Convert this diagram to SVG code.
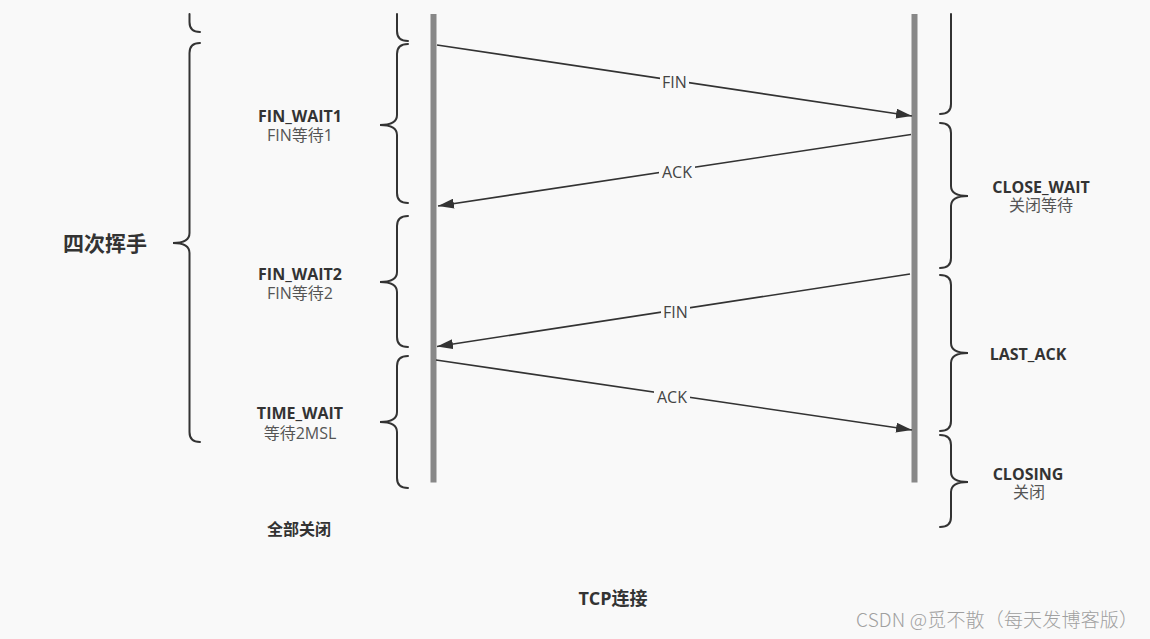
<svg xmlns="http://www.w3.org/2000/svg" width="1150" height="639" viewBox="0 0 1150 639">
<defs>
<style>
.bg{fill:#f9f9f9}
.life{fill:#888888}
.brace{fill:none;stroke:#333333;stroke-width:2;stroke-linecap:round}
.msg{fill:none;stroke:#333333;stroke-width:1.6}
.t{font-family:"Open Sans","Noto Sans CJK SC",sans-serif;font-size:16px;text-anchor:middle}
.b{font-weight:bold;fill:#333333}
.s{fill:#555555;font-weight:normal}
.lbl{font-family:"Open Sans","Noto Sans CJK SC",sans-serif;font-size:16px;text-anchor:middle;fill:#444444}
.lblbg{fill:#f9f9f9}
</style>
<marker id="arr" markerUnits="userSpaceOnUse" markerWidth="16" markerHeight="10" refX="16" refY="5" orient="auto">
<path d="M0,0 L16,5 L0,10 z" fill="#333333"/>
</marker>
</defs>
<rect class="bg" x="0" y="0" width="1150" height="639"/>

<g id="lifeline-client"><rect class="life" x="430.5" y="14" width="6" height="468.5"/></g>
<g id="lifeline-server"><rect class="life" x="911.5" y="14" width="6" height="468.5"/></g>

<g id="connectors">
<line class="msg" x1="437" y1="45" x2="912" y2="116" marker-end="url(#arr)"/>
<rect class="lblbg" x="660" y="74" width="29" height="16"/>
<text class="lbl" x="674.5" y="88">FIN</text>
<line class="msg" x1="911" y1="134.5" x2="438" y2="206" marker-end="url(#arr)"/>
<rect class="lblbg" x="659" y="164" width="36" height="16"/>
<text class="lbl" x="677" y="178">ACK</text>
<line class="msg" x1="910" y1="274" x2="437" y2="346.5" marker-end="url(#arr)"/>
<rect class="lblbg" x="661" y="304" width="29" height="16"/>
<text class="lbl" x="675.5" y="318">FIN</text>
<line class="msg" x1="436" y1="360" x2="912" y2="430" marker-end="url(#arr)"/>
<rect class="lblbg" x="654" y="389" width="36" height="16"/>
<text class="lbl" x="672" y="403">ACK</text>
</g>

<g id="brace-group-left">
<path class="brace" d="M189.5,14 L189.5,22 Q189.5,32 200,32"/>
<path class="brace" d="M200,43 Q189.5,43 189.5,53 L189.5,233 Q189.5,243 173,243 Q189.5,243 189.5,253 L189.5,432 Q189.5,442 200,442"/>
</g>
<g id="four-way-label"><text class="t b" x="105" y="251" style="font-size:21px">四次挥手</text></g>

<g id="brace-client">
<path class="brace" d="M397,14 L397,31 Q397,41 408,41"/>
<path class="brace" d="M408,44 Q397,44 397,54 L397,115 Q397,125 380,125 Q397,125 397,135 L397,193 Q397,203 408,203"/>
<path class="brace" d="M408,216 Q397,216 397,226 L397,272 Q397,282 380,282 Q397,282 397,292 L397,337 Q397,347 408,347"/>
<path class="brace" d="M408,356 Q397,356 397,366 L397,412 Q397,422 380,422 Q397,422 397,432 L397,478 Q397,488 408,488"/>
</g>

<g id="fin-wait1"><text class="t b" x="300" y="122">FIN_WAIT1<tspan class="s" x="300" dy="19">FIN等待1</tspan></text></g>
<g id="fin-wait2"><text class="t b" x="300" y="280">FIN_WAIT2<tspan class="s" x="300" dy="19">FIN等待2</tspan></text></g>
<g id="time-wait"><text class="t b" x="300" y="419">TIME_WAIT<tspan class="s" x="300" dy="20">等待2MSL</tspan></text></g>
<g id="all-closed"><text class="t b" x="299" y="535">全部关闭</text></g>

<g id="brace-server">
<path class="brace" d="M951,14 L951,104 Q951,114 940,114"/>
<path class="brace" d="M940,123 Q951,123 951,133 L951,186 Q951,196 968,196 Q951,196 951,206 L951,258 Q951,268 940,268"/>
<path class="brace" d="M940,275 Q951,275 951,285 L951,343 Q951,353 968,353 Q951,353 951,363 L951,421 Q951,431 940,431"/>
<path class="brace" d="M940,435 Q951,435 951,445 L951,472 Q951,482 968,482 Q951,482 951,492 L951,517 Q951,527 940,527"/>
</g>

<g id="close-wait"><text class="t b" x="1041" y="193">CLOSE_WAIT<tspan class="s" x="1041" dy="18">关闭等待</tspan></text></g>
<g id="last-ack"><text class="t b" x="1028" y="360">LAST_ACK</text></g>
<g id="closing"><text class="t b" x="1028" y="480">CLOSING<tspan class="s" x="1029" dy="18">关闭</tspan></text></g>

<g id="title"><text class="t b" x="613" y="605" style="font-size:18px">TCP连接</text></g>
<g id="watermark"><text x="1138" y="627" textLength="282" lengthAdjust="spacing" style="font-family:'Noto Sans CJK SC',sans-serif;font-size:19px;font-weight:300;text-anchor:end;fill:#a0a0a0">CSDN @觅不散（每天发博客版）</text></g>
</svg>
